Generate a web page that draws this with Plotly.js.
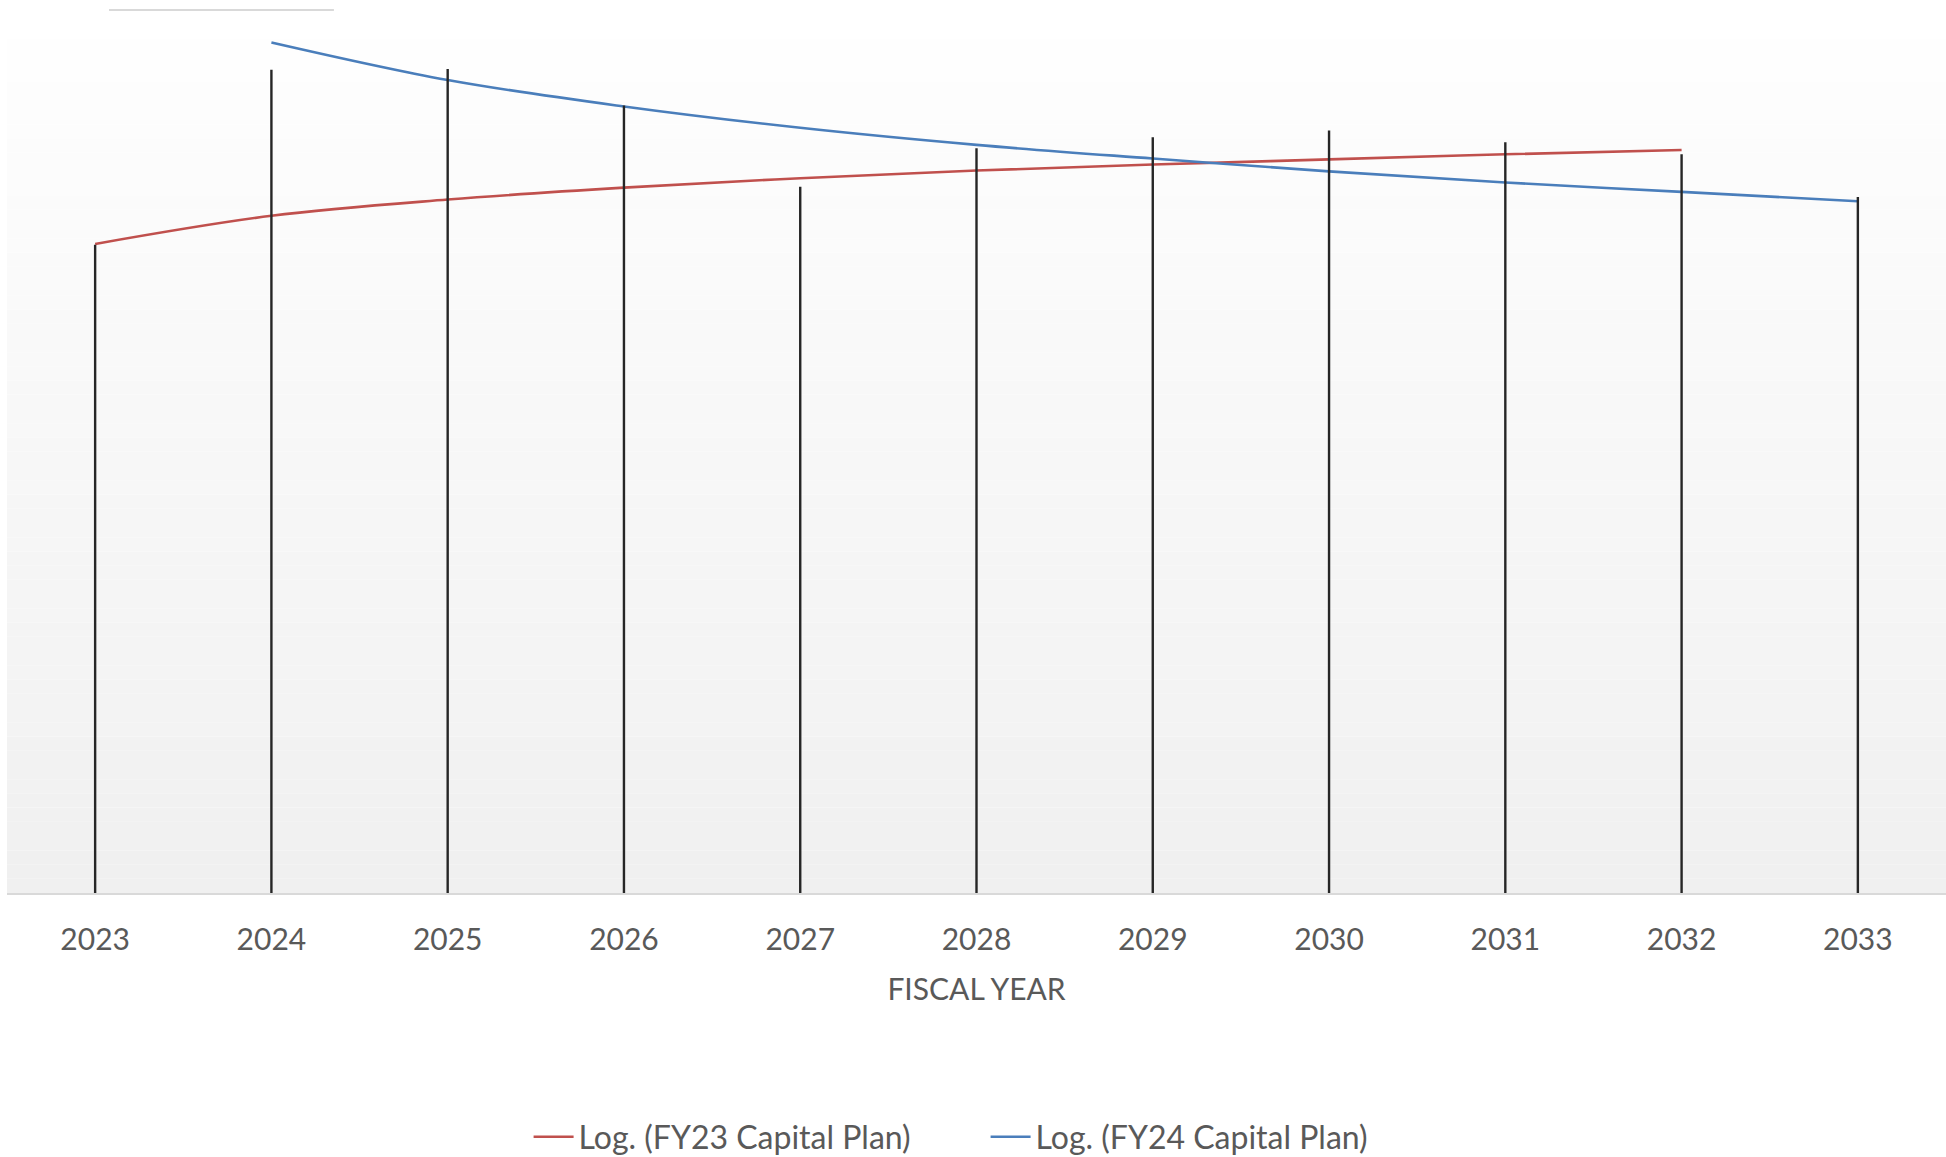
<!DOCTYPE html>
<html>
<head>
<meta charset="utf-8">
<script src="https://cdn.plot.ly/plotly-3.0.1.min.js"></script>
<style>
  html, body { margin: 0; padding: 0; background: #ffffff; }
  #chart { width: 1946px; height: 1157px; }
</style>
</head>
<body>
<div id="chart"></div>
<script>
// Fiscal years (categories)
const years = ["2023", "2024", "2025", "2026", "2027", "2028", "2029", "2030", "2031", "2032", "2033"];

// Height of the vertical drop line at each year (relative units, axis 0-100, no scale shown)
const dropLineTops = [75.9, 96.4, 96.5, 92.2, 82.7, 87.2, 88.5, 89.3, 87.9, 86.5, 81.5];

// Log. (FY23 Capital Plan) trendline, read at each year 2023-2032
const fy23Years = ["2023", "2024", "2025", "2026", "2027", "2028", "2029", "2030", "2031", "2032"];
const fy23Trend = [76.0, 79.3, 81.2, 82.6, 83.7, 84.6, 85.3, 85.9, 86.5, 87.0];

// Log. (FY24 Capital Plan) trendline, read at each year 2024-2033
const fy24Years = ["2024", "2025", "2026", "2027", "2028", "2029", "2030", "2031", "2032", "2033"];
const fy24Trend = [99.6, 95.2, 92.1, 89.6, 87.6, 86.0, 84.5, 83.2, 82.1, 81.0];

const seriesNames = ["Log. (FY23 Capital Plan)", "Log. (FY24 Capital Plan)"];

const textColor = "#595959";
const fontFamily = "Lato, 'Open Sans', 'Liberation Sans', sans-serif";

// Vertical drop lines built from the arrays above (segments separated by null)
const dropX = [], dropY = [];
years.forEach((yr, i) => {
  dropX.push(yr, yr, null);
  dropY.push(0, dropLineTops[i], null);
});

const traces = [
  {
    type: "scatter", mode: "lines",
    x: fy23Years, y: fy23Trend,
    name: seriesNames[0],
    line: { color: "#c0504d", width: 2.6, shape: "spline", smoothing: 1 },
    hoverinfo: "skip"
  },
  {
    type: "scatter", mode: "lines",
    x: fy24Years, y: fy24Trend,
    name: seriesNames[1],
    line: { color: "#4a7ebb", width: 2.6, shape: "spline", smoothing: 1 },
    hoverinfo: "skip"
  },
  {
    type: "scatter", mode: "lines",
    x: dropX, y: dropY,
    name: "drop lines",
    showlegend: false,
    connectgaps: false,
    line: { color: "#262626", width: 2.4 },
    hoverinfo: "skip"
  }
];

// Vertical gradient background of the plot area (white at top, light gray at bottom)
const shapes = [];
const strips = 60;
for (let i = 0; i < strips; i++) {
  const t = i / (strips - 1);           // 0 bottom -> 1 top
  const g = Math.round(240 + (254 - 240) * t);
  shapes.push({
    type: "rect", xref: "paper", yref: "paper", layer: "below",
    x0: 0, x1: 1, y0: i / strips, y1: (i + 1) / strips,
    fillcolor: `rgb(${g},${g},${g})`, line: { width: 0 }
  });
}
// faint grey rule at the very top-left (as seen in the reference)
shapes.push({
  type: "line", xref: "paper", yref: "paper", layer: "above",
  x0: 0.0526, x1: 0.1686, y0: 1.034, y1: 1.034,
  line: { color: "#d9d9d9", width: 2 }
});

const layout = {
  width: 1946, height: 1157,
  margin: { l: 7, r: 0, t: 39, b: 264, autoexpand: false },
  paper_bgcolor: "#ffffff",
  plot_bgcolor: "rgba(0,0,0,0)",
  font: { family: fontFamily, color: textColor, size: 30 },
  showlegend: true,
  legend: {
    orientation: "h",
    x: 0.269, xanchor: "left",
    y: -0.2857, yanchor: "middle",
    font: { family: fontFamily, size: 32, color: textColor },
    bgcolor: "rgba(0,0,0,0)",
    entrywidthmode: "pixels",
    entrywidth: 402,
    itemwidth: 40
  },
  xaxis: {
    type: "category",
    categoryorder: "array",
    categoryarray: years,
    range: [-0.5, 10.5],
    showgrid: false,
    zeroline: false,
    showline: true,
    linecolor: "#d9d9d9",
    linewidth: 2,
    ticks: "",
    ticklabelstandoff: 19,
    tickfont: { family: fontFamily, size: 30, color: textColor },
    title: { text: "FISCAL YEAR", font: { family: fontFamily, size: 30, color: textColor }, standoff: 24 },
    automargin: false,
    fixedrange: true
  },
  yaxis: {
    range: [0, 100],
    showgrid: false,
    zeroline: false,
    showline: false,
    showticklabels: false,
    ticks: "",
    automargin: false,
    fixedrange: true
  },
  shapes: shapes
};

Plotly.newPlot("chart", traces, layout, { displayModeBar: false, staticPlot: true });
</script>
</body>
</html>
